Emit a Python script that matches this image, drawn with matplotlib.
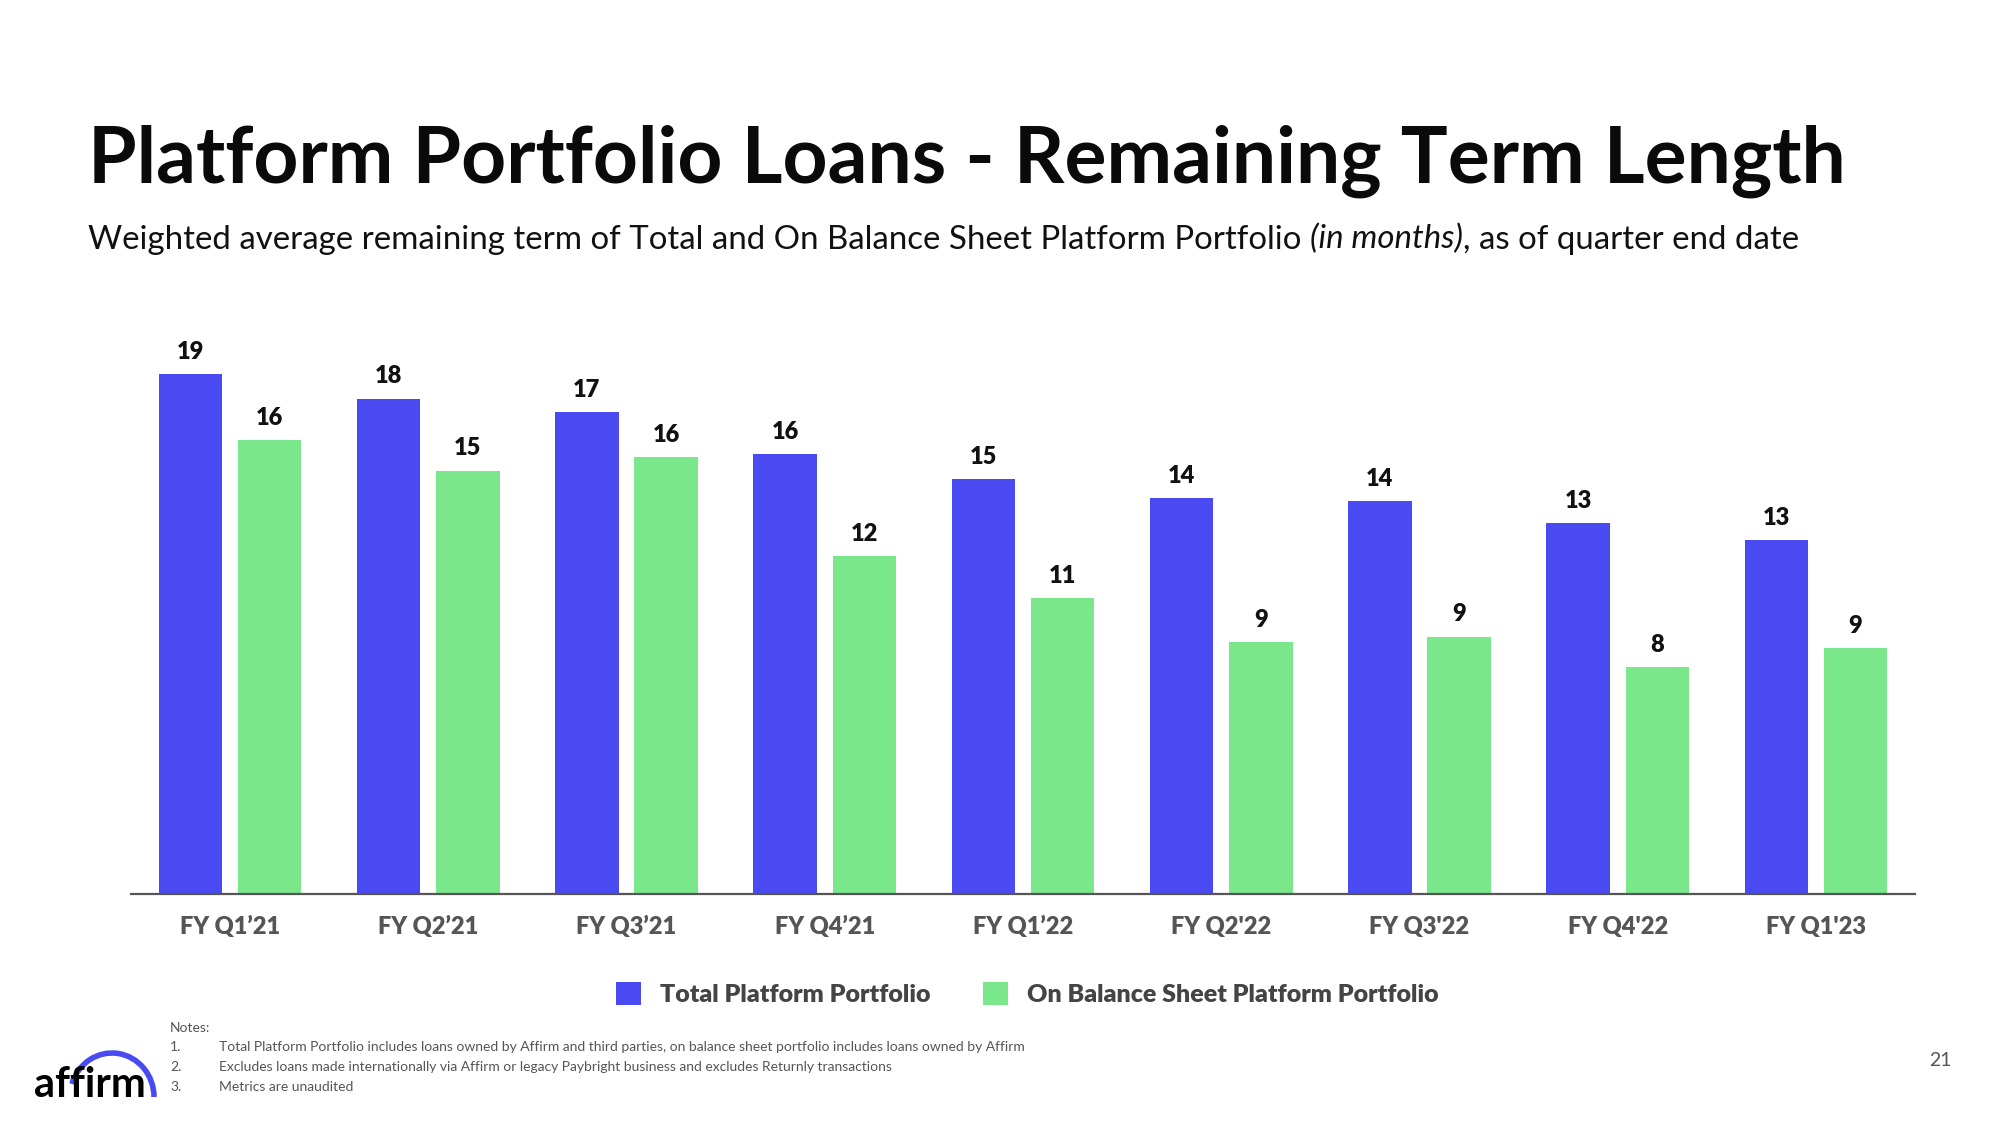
import matplotlib.pyplot as plt
from matplotlib.patches import Arc
import numpy as np

# données (mois)
quarters = ["FY Q1\u201921", "FY Q2\u201921", "FY Q3\u201921", "FY Q4\u201921", "FY Q1\u201922",
            "FY Q2'22", "FY Q3'22", "FY Q4'22", "FY Q1'23"]
total_platform = [18.8, 17.9, 17.4, 15.9, 15.0, 14.3, 14.2, 13.4, 12.8]
on_balance_sheet = [16.4, 15.3, 15.8, 12.2, 10.7, 9.1, 9.3, 8.2, 8.9]
series_names = ["Total Platform Portfolio", "On Balance Sheet Platform Portfolio"]
notes = [
    "Total Platform Portfolio includes loans owned by Affirm and third parties, on balance sheet portfolio includes loans owned by Affirm",
    "Excludes loans made internationally via Affirm or legacy Paybright business and excludes Returnly transactions",
    "Metrics are unaudited",
]

BLUE = "#4a4af3"
GREEN = "#7ae78b"
GRAY = "#555555"
FONT = "Lato"

plt.rcParams["font.family"] = [FONT, "DejaVu Sans"]

fig = plt.figure(figsize=(20, 11.25), dpi=100)
ax = fig.add_axes([0.0655, 0.2053, 0.892, 0.4921])

x = np.arange(len(quarters))
w = 0.32
b1 = ax.bar(x - 0.2, total_platform, w, color=BLUE, label=series_names[0])
b2 = ax.bar(x + 0.2, on_balance_sheet, w, color=GREEN, label=series_names[1])

for bars, vals in ((b1, total_platform), (b2, on_balance_sheet)):
    ax.bar_label(bars, labels=[f"{round(v):d}" for v in vals], padding=8,
                 fontsize=17, fontweight="heavy", color="#111111")

ax.set_xlim(-0.5, 8.5)
ax.set_ylim(0, 20)
ax.set_xticks(x, quarters)
ax.tick_params(axis="x", length=0, pad=16, labelsize=17, labelcolor=GRAY)
for lab in ax.get_xticklabels():
    lab.set_fontweight("heavy")
ax.set_yticks([])
for s in ("top", "right", "left"):
    ax.spines[s].set_visible(False)
ax.spines["bottom"].set_color(GRAY)
ax.spines["bottom"].set_linewidth(1.6)

# légende
leg = fig.legend(handles=[b1, b2], loc="center", bbox_to_anchor=(0.5137, 0.1164), ncol=2,
                 frameon=False, handlelength=1.0, handleheight=1.0, handletextpad=0.75,
                 columnspacing=2.1, prop={"family": FONT, "weight": "heavy", "size": 18})
for t in leg.get_texts():
    t.set_color("#444444")

# titre
fig.text(0.044, 0.838, "Platform Portfolio Loans - Remaining Term Length",
         fontsize=56.5, fontweight="bold", color="#0a0a0a", va="baseline")

# sous-titre avec partie en italique
fig.canvas.draw()
renderer = fig.canvas.get_renderer()
parts = [("Weighted average remaining term of Total and On Balance Sheet Platform Portfolio ", "normal"),
         ("(in months)", "italic"),
         (", as of quarter end date", "normal")]
xpos = 0.044
for txt, style in parts:
    t = fig.text(xpos, 0.779, txt, fontsize=23.8, style=style, color="#111111", va="baseline")
    bb = t.get_window_extent(renderer)
    xpos += bb.width / fig.bbox.width

# notes
fig.text(0.085, 0.086, "Notes:", fontsize=10, color=GRAY, va="center")
for i, n in enumerate(notes):
    yy = 0.069 - i * 0.0178
    fig.text(0.085, yy, f"{i + 1}.", fontsize=10, color=GRAY, va="center")
    fig.text(0.1095, yy, n, fontsize=10, color=GRAY, va="center")

# numéro de page
fig.text(0.97, 0.057, "21", fontsize=14, color=GRAY, va="center", ha="center")

# logo affirm
fig.text(0.017, 0.025, "affirm", fontsize=30, fontweight="bold", color="#000000", va="baseline")
arc = Arc((112 / 2000, 1 - 1097 / 1125), 84 / 2000, 88 / 1125, theta1=0, theta2=150,
          transform=fig.transFigure, color=BLUE, lw=4)
fig.add_artist(arc)

fig.savefig("out.png", dpi=100)
